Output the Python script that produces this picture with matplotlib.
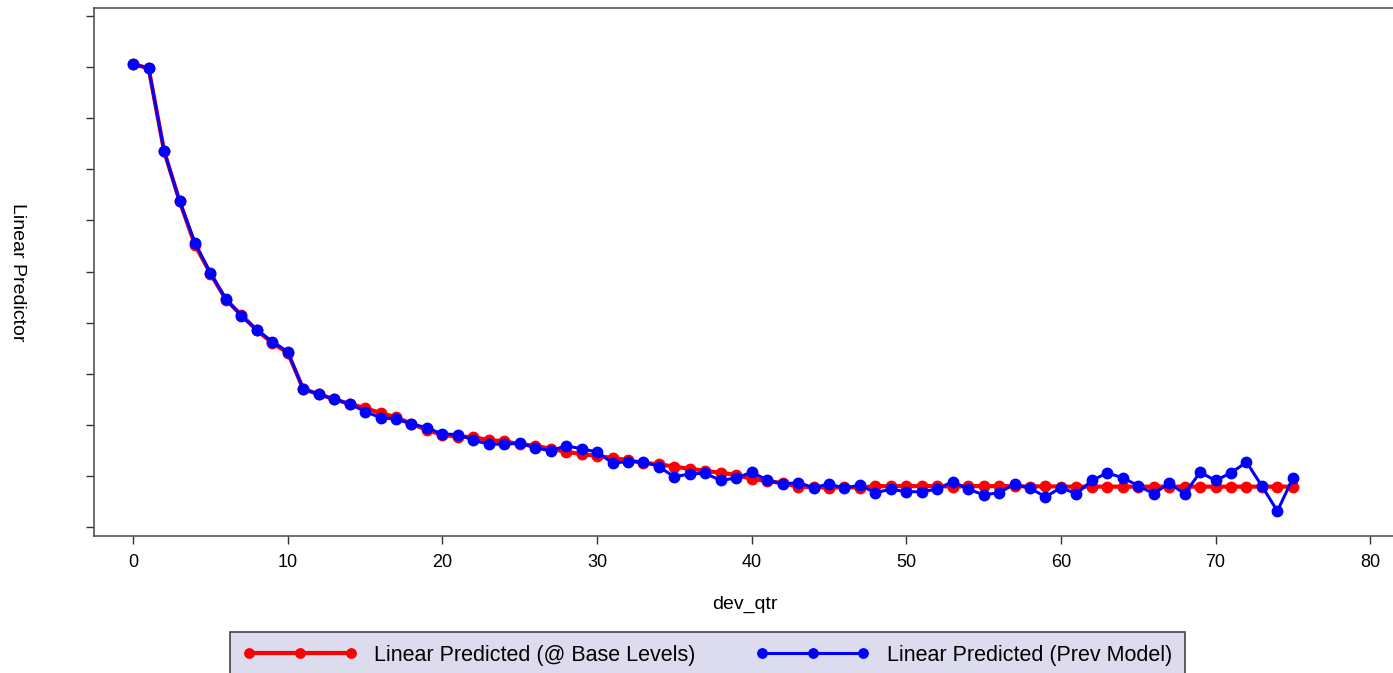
import matplotlib
matplotlib.use("Agg")
import matplotlib.pyplot as plt
import numpy as np

plt.rcParams["font.family"] = ["Liberation Sans", "DejaVu Sans"]

# development quarter
dev_qtr = np.arange(76)

# linear predictor at base levels (red)
base_levels = [
    9.06, 8.98, 7.36, 6.38, 5.52, 4.96, 4.45, 4.15, 3.85, 3.60,
    3.41, 2.70, 2.60, 2.50, 2.41, 2.33, 2.23, 2.15, 2.02, 1.90,
    1.80, 1.77, 1.76, 1.70, 1.68, 1.62, 1.59, 1.53, 1.47, 1.43,
    1.39, 1.35, 1.31, 1.25, 1.23, 1.18, 1.14, 1.10, 1.06, 1.02,
    0.94, 0.90, 0.86, 0.79, 0.78, 0.77, 0.78, 0.77, 0.80, 0.80,
    0.80, 0.80, 0.80, 0.79, 0.80, 0.80, 0.80, 0.80, 0.79, 0.80,
    0.79, 0.79, 0.79, 0.79, 0.79, 0.79, 0.79, 0.79, 0.79, 0.79,
    0.79, 0.79, 0.79, 0.79, 0.79, 0.79,
]

# linear predictor from previous model (blue)
prev_model = [
    9.06, 8.98, 7.36, 6.38, 5.56, 4.97, 4.46, 4.13, 3.86, 3.63,
    3.43, 2.70, 2.60, 2.50, 2.41, 2.26, 2.14, 2.11, 2.02, 1.94,
    1.82, 1.81, 1.70, 1.62, 1.62, 1.64, 1.55, 1.49, 1.59, 1.53,
    1.47, 1.25, 1.28, 1.28, 1.18, 0.98, 1.04, 1.05, 0.91, 0.96,
    1.07, 0.92, 0.84, 0.87, 0.77, 0.84, 0.76, 0.82, 0.67, 0.74,
    0.69, 0.69, 0.74, 0.89, 0.74, 0.63, 0.67, 0.84, 0.76, 0.59,
    0.77, 0.65, 0.91, 1.06, 0.96, 0.81, 0.65, 0.86, 0.65, 1.07,
    0.91, 1.06, 1.27, 0.80, 0.31, 0.96,
]

fig = plt.figure(figsize=(13.93, 6.73), dpi=100)
ax = fig.add_axes([0.0675, 0.2036, 0.935, 0.7846])

ax.plot(dev_qtr, base_levels, color="red", linewidth=3, marker="o",
        markersize=7.5, label="Linear Predicted (@ Base Levels)")
ax.plot(dev_qtr, prev_model, color="blue", linewidth=2.2, marker="o",
        markersize=7.5, label="Linear Predicted (Prev Model)")

ax.set_xlim(-2.53, 81.7)
ax.set_ylim(-0.176, 10.16)
ax.set_xticks(np.arange(0, 81, 10))
ax.set_yticks(np.arange(0, 11, 1))
ax.set_yticklabels([])
ax.tick_params(axis="both", length=6, width=1, color="#333333",
               labelsize=13, pad=7)

for side in ["top", "bottom", "left", "right"]:
    ax.spines[side].set_color("#555555")
    ax.spines[side].set_linewidth(1.2)

ax.set_xlabel("dev_qtr", fontsize=14, labelpad=18)
ax.set_ylabel("Linear Predictor", fontsize=14, rotation=270)
ax.yaxis.set_label_coords(-0.065, 0.5)

leg = fig.legend(loc="upper center", bbox_to_anchor=(0.508, 0.061),
                 ncol=2, fontsize=15.5, numpoints=3, handlelength=5.3,
                 columnspacing=2.8, fancybox=False, framealpha=1,
                 facecolor="#dcdcee", edgecolor="#444444",
                 borderpad=0.6, borderaxespad=0, markerscale=0.9)
leg.get_frame().set_linewidth(1.2)

fig.savefig("out.png", dpi=100)
